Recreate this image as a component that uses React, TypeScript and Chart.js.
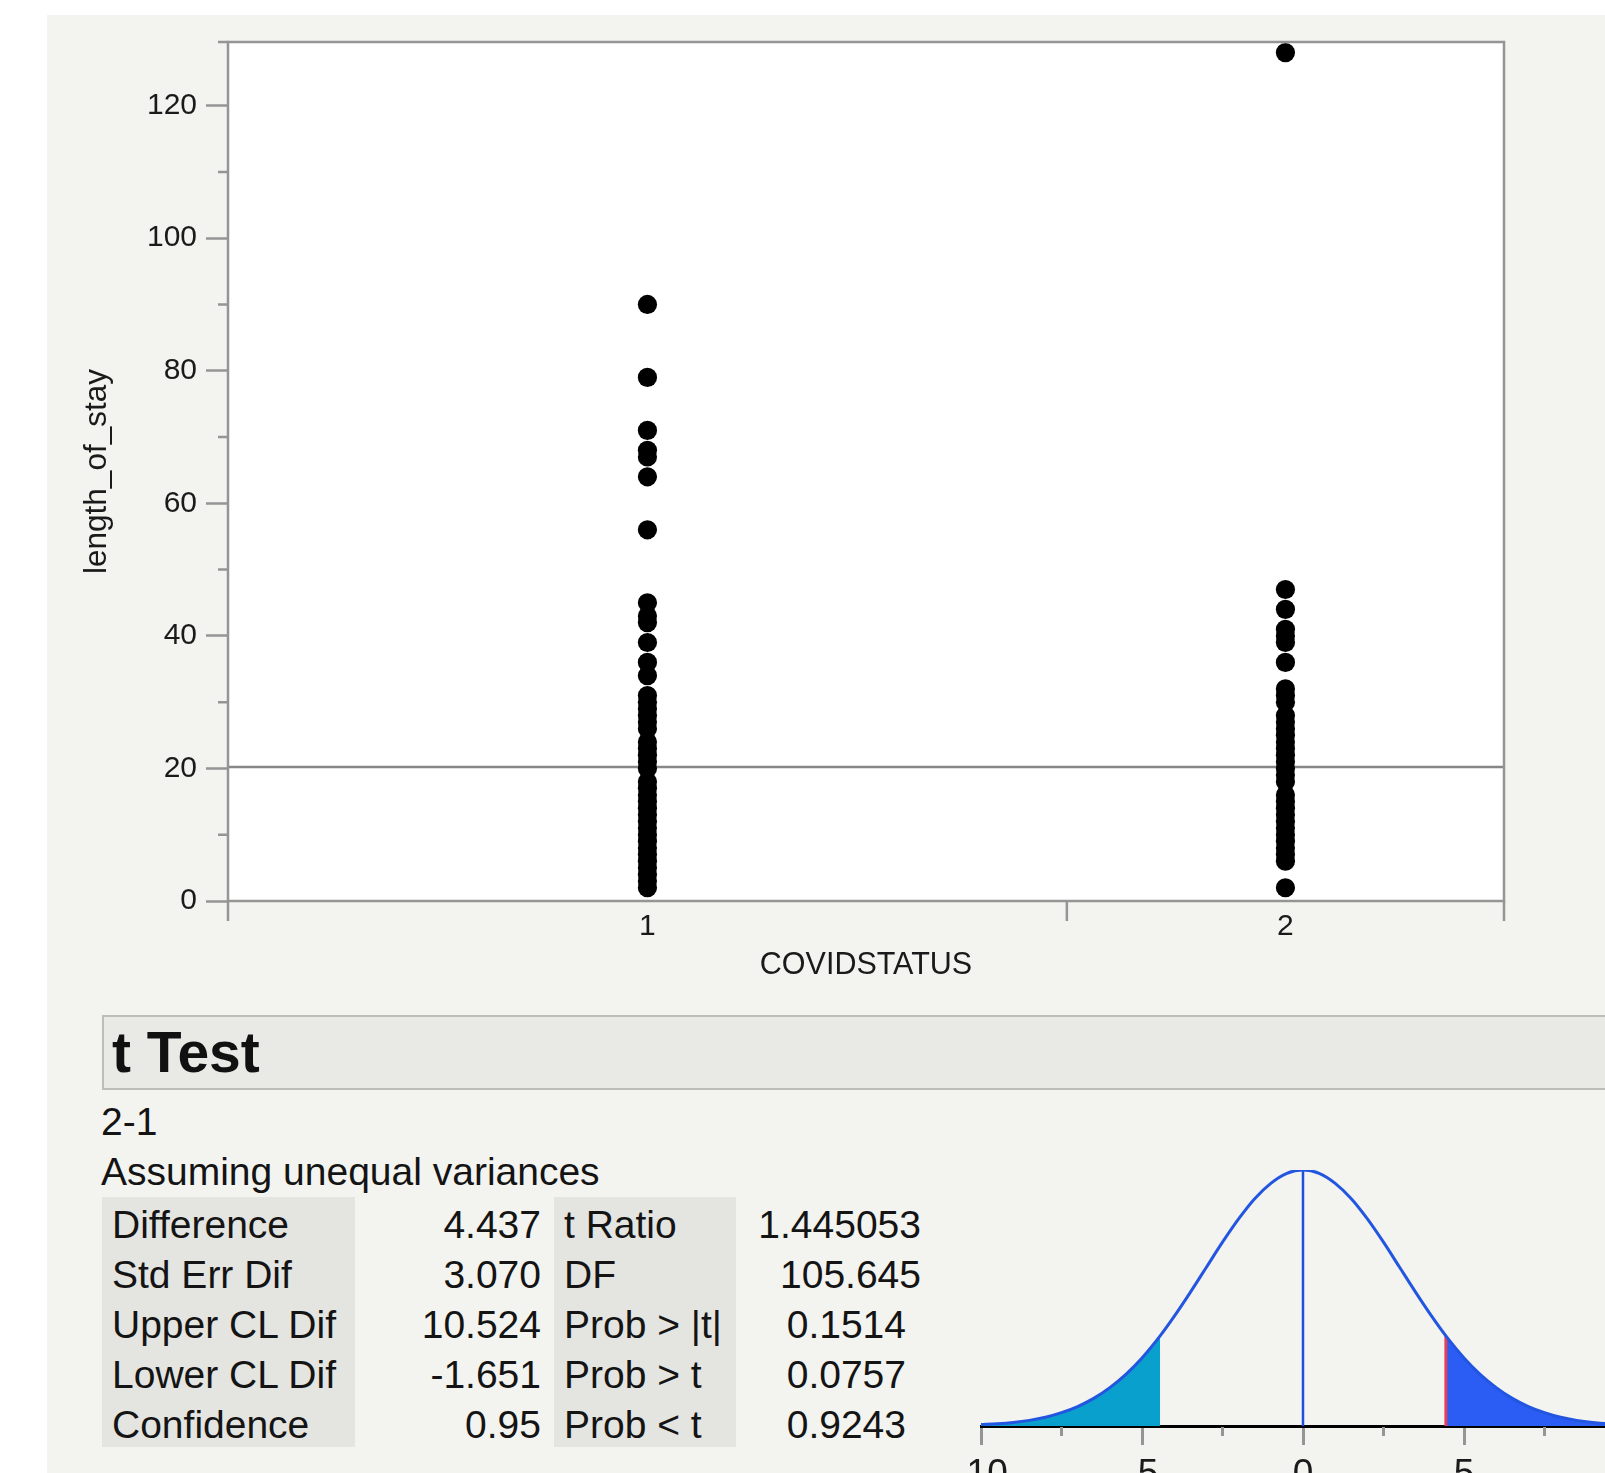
import React, { useEffect, useRef } from 'react';
import { Chart, registerables } from 'chart.js';

Chart.register(...registerables);

// ---------- data: one-way plot ----------
const categories = ['1', '2'];
const groupSizes = [71, 37];
const group1Values = [90, 79, 71, 68, 67, 64, 56, 45, 43, 42, 39, 36, 34, 31, 30, 29, 28, 27, 26, 24, 23, 22, 21, 20, 18, 17, 16, 15, 14, 13, 12, 11, 10, 9, 8, 7, 6, 5, 4, 3, 2];
const group2Values = [128, 47, 44, 41, 40, 39, 36, 32, 31, 30, 28, 27, 26, 25, 24, 23, 22, 21, 20, 19, 18, 16, 15, 14, 13, 12, 11, 10, 9, 8, 7, 6, 2];
const grandMean = 20.2;
const yTickValues = [0, 10, 20, 30, 40, 50, 60, 70, 80, 90, 100, 110, 120];
const yLabelStep = 20;
const yAxisMax = 129.6;
const xTitle = 'COVIDSTATUS';
const yTitle = 'length_of_stay';

// ---------- data: t test ----------
const testTitle = 't Test';
const contrastLabel = '2-1';
const varianceNote = 'Assuming unequal variances';
const statLabels = ['Difference', 'Std Err Dif', 'Upper CL Dif', 'Lower CL Dif', 'Confidence'];
const statValues = ['4.437', '3.070', '10.524', '-1.651', '0.95'];
const testLabels = ['t Ratio', 'DF', 'Prob > |t|', 'Prob > t', 'Prob < t'];
const testValues = ['1.445053', '105.645', '0.1514', '0.0757', '0.9243'];

// ---------- data: t distribution sketch ----------
const observedDiff = 4.437;
const densityX = [-10, -9.5, -9, -8.5, -8, -7.5, -7, -6.5, -6, -5.5, -5, -4.437, -4, -3.5, -3, -2.5, -2, -1.5, -1, -0.5, 0, 0.5, 1, 1.5, 2, 2.5, 3, 3.5, 4, 4.437, 5, 5.5, 6, 6.5, 7, 7.5, 8, 8.5, 9, 9.5, 10];
const densityY = [0.006, 0.009, 0.014, 0.022, 0.034, 0.052, 0.076, 0.108, 0.15, 0.202, 0.266, 0.352, 0.428, 0.522, 0.62, 0.718, 0.809, 0.888, 0.948, 0.987, 1.0, 0.987, 0.948, 0.888, 0.809, 0.718, 0.62, 0.522, 0.428, 0.352, 0.266, 0.202, 0.15, 0.108, 0.076, 0.052, 0.034, 0.022, 0.014, 0.009, 0.006];
const distTickValues = [-10, -7.5, -5, -2.5, 0, 2.5, 5, 7.5, 10];
const distLabelStep = 5;

const FONT = '"Liberation Sans", Arial, Helvetica, sans-serif';
const AXIS_GRAY = '#959595';

export default function App() {
  const mainRef = useRef<HTMLCanvasElement>(null);
  const distRef = useRef<HTMLCanvasElement>(null);

  useEffect(() => {
    if (!mainRef.current || !distRef.current) return;
    Chart.defaults.font.family = FONT;

    const total = groupSizes.reduce((a, b) => a + b, 0);
    const bounds: number[] = [0];
    groupSizes.forEach((n) => bounds.push(bounds[bounds.length - 1] + n));
    const centers = groupSizes.map((n, i) => bounds[i] + n / 2);

    const mainDecor = {
      id: 'mainDecor',
      beforeDraw(chart: any) {
        const { ctx, chartArea: a } = chart;
        ctx.save();
        ctx.fillStyle = '#ffffff';
        ctx.fillRect(a.left, a.top, a.right - a.left, a.bottom - a.top);
        ctx.restore();
      },
      afterDatasetsDraw(chart: any) {
        const { ctx, chartArea: a, scales } = chart;
        ctx.save();
        ctx.strokeStyle = AXIS_GRAY;
        ctx.lineWidth = 2.5;
        ctx.strokeRect(a.left, a.top, a.right - a.left, a.bottom - a.top);
        ctx.beginPath();
        ctx.moveTo(a.left - 10, a.top);
        ctx.lineTo(a.left, a.top);
        yTickValues
          .filter((v) => v % yLabelStep !== 0)
          .forEach((v) => {
            const py = scales.y.getPixelForValue(v);
            ctx.moveTo(a.left - 10, py);
            ctx.lineTo(a.left, py);
          });
        bounds.forEach((b) => {
          const px = scales.x.getPixelForValue(b);
          ctx.moveTo(px, a.bottom);
          ctx.lineTo(px, a.bottom + 20);
        });
        ctx.stroke();
        ctx.restore();
      },
    };

    const axisFont = { family: FONT, size: 30 };
    const main = new Chart(mainRef.current, {
      type: 'scatter',
      data: {
        datasets: [
          {
            data: [{ x: 0, y: grandMean }, { x: total, y: grandMean }],
            showLine: true,
            borderColor: '#878787',
            borderWidth: 2.5,
            pointRadius: 0,
            order: 2,
          },
          {
            data: group1Values.map((v) => ({ x: centers[0], y: v })),
            backgroundColor: '#000000',
            borderWidth: 0,
            pointRadius: 9.6,
            order: 0,
          },
          {
            data: group2Values.map((v) => ({ x: centers[1], y: v })),
            backgroundColor: '#000000',
            borderWidth: 0,
            pointRadius: 9.6,
            order: 0,
          },
        ],
      },
      options: {
        animation: false,
        responsive: false,
        devicePixelRatio: 1,
        events: [],
        layout: { padding: { top: 26, right: 101, left: 0, bottom: 0 } },
        plugins: { legend: { display: false }, tooltip: { enabled: false } },
        scales: {
          x: {
            type: 'linear',
            min: 0,
            max: total,
            afterBuildTicks: (s: any) => {
              s.ticks = centers.map((v) => ({ value: v }));
            },
            afterFit: (s: any) => {
              s.height = 99;
            },
            ticks: {
              callback: (_v: any, i: number) => categories[i],
              font: axisFont,
              color: '#1a1a1a',
              padding: 8,
              autoSkip: false,
              maxRotation: 0,
            },
            grid: { display: false, drawTicks: false },
            border: { display: false },
            title: { display: true, text: xTitle, font: { family: FONT, size: 30.5 }, color: '#1a1a1a', padding: { top: 0, bottom: 16 } },
          },
          y: {
            type: 'linear',
            min: 0,
            max: yAxisMax,
            afterBuildTicks: (s: any) => {
              s.ticks = yTickValues.map((v) => ({ value: v }));
            },
            afterFit: (s: any) => {
              s.width = 181;
            },
            ticks: {
              callback: (v: any) => (Number(v) % yLabelStep === 0 ? String(v) : ''),
              font: axisFont,
              color: '#1a1a1a',
              padding: 9,
              autoSkip: false,
            },
            grid: {
              drawOnChartArea: false,
              tickLength: 22,
              tickWidth: 2.5,
              tickColor: (c: any) => (c.tick && c.tick.value % yLabelStep === 0 ? AXIS_GRAY : 'rgba(0,0,0,0)'),
            },
            border: { display: false },
            title: { display: true, text: yTitle, font: { family: FONT, size: 31.5 }, color: '#1a1a1a', padding: { top: 31, bottom: 0 } },
          },
        },
      } as any,
      plugins: [mainDecor],
    });

    // ---- t distribution ----
    const pts = densityX.map((x, i) => ({ x, y: densityY[i] }));
    const leftTail = pts.filter((p) => p.x <= -observedDiff);
    const rightTail = pts.filter((p) => p.x >= observedDiff);
    const peak = densityY[densityX.indexOf(0)];
    const atObs = densityY[densityX.indexOf(observedDiff)];

    const distDecor = {
      id: 'distDecor',
      afterDraw(chart: any) {
        const { ctx, chartArea: a, scales } = chart;
        ctx.save();
        ctx.strokeStyle = AXIS_GRAY;
        ctx.lineWidth = 3;
        ctx.beginPath();
        distTickValues
          .filter((v) => v % distLabelStep !== 0)
          .forEach((v) => {
            const px = scales.x.getPixelForValue(v);
            ctx.moveTo(px, a.bottom + 1);
            ctx.lineTo(px, a.bottom + 10);
          });
        ctx.stroke();
        ctx.restore();
      },
    };

    const dist = new Chart(distRef.current, {
      type: 'line',
      data: {
        datasets: [
          {
            data: leftTail,
            fill: 'origin',
            backgroundColor: '#0aa0cd',
            borderWidth: 0,
            pointRadius: 0,
            cubicInterpolationMode: 'monotone',
            order: 5,
          },
          {
            data: rightTail,
            fill: 'origin',
            backgroundColor: '#2b5cf4',
            borderWidth: 0,
            pointRadius: 0,
            cubicInterpolationMode: 'monotone',
            order: 5,
          },
          {
            data: [{ x: 0, y: 0 }, { x: 0, y: peak }],
            borderColor: '#1f4fdc',
            borderWidth: 2.5,
            pointRadius: 0,
            fill: false,
            order: 3,
          },
          {
            data: [{ x: observedDiff, y: 0 }, { x: observedDiff, y: atObs }],
            borderColor: '#e4405a',
            borderWidth: 3,
            pointRadius: 0,
            fill: false,
            order: 2,
          },
          {
            data: pts,
            borderColor: '#2356e0',
            borderWidth: 3,
            pointRadius: 0,
            fill: false,
            cubicInterpolationMode: 'monotone',
            order: 1,
          },
        ],
      },
      options: {
        animation: false,
        responsive: false,
        devicePixelRatio: 1,
        events: [],
        layout: { padding: { top: 30, right: 35, left: 41, bottom: 0 } },
        plugins: { legend: { display: false }, tooltip: { enabled: false } },
        scales: {
          x: {
            type: 'linear',
            min: -10,
            max: 10,
            afterBuildTicks: (s: any) => {
              s.ticks = distTickValues.map((v) => ({ value: v }));
            },
            afterFit: (s: any) => {
              s.height = 47;
            },
            ticks: {
              callback: (v: any) => (Number(v) % distLabelStep === 0 ? String(v) : ''),
              font: { family: FONT, size: 37 },
              color: '#1a1a1a',
              padding: 8,
              autoSkip: false,
              maxRotation: 0,
            },
            grid: {
              drawOnChartArea: false,
              tickLength: 19,
              tickWidth: 3,
              tickColor: (c: any) => (c.tick && c.tick.value % distLabelStep === 0 ? AXIS_GRAY : 'rgba(0,0,0,0)'),
            },
            border: { display: true, color: '#000000', width: 3 },
          },
          y: { display: false, min: 0, max: 1 },
        },
      } as any,
      plugins: [distDecor],
    });

    return () => {
      main.destroy();
      dist.destroy();
    };
  }, []);

  const textStyle: React.CSSProperties = { position: 'absolute', fontSize: 39, color: '#141414', whiteSpace: 'nowrap' };
  const rowTop = 1197;
  const rowH = 50;

  return (
    <div
      style={{
        position: 'absolute',
        left: 0,
        top: 0,
        width: 1605,
        height: 1473,
        overflow: 'hidden',
        background: '#ffffff',
        fontFamily: FONT,
      }}
    >
      <div style={{ position: 'absolute', left: 47, top: 15, right: 0, bottom: 0, background: '#f3f3f0' }} />
      <canvas ref={mainRef} width={1558} height={985} style={{ position: 'absolute', left: 47, top: 15, width: 1558, height: 985 }} />

      <div
        style={{
          position: 'absolute',
          left: 102,
          top: 1015,
          width: 1560,
          height: 75,
          boxSizing: 'border-box',
          border: '2px solid #bdbdb9',
          background: '#e9e9e5',
          fontWeight: 'bold',
          fontSize: 57,
          lineHeight: '71px',
          paddingLeft: 8,
          color: '#111',
        }}
      >
        {testTitle}
      </div>

      <div style={{ ...textStyle, left: 101, top: 1097, lineHeight: '50px' }}>{contrastLabel}</div>
      <div style={{ ...textStyle, left: 101, top: 1147, lineHeight: '50px' }}>{varianceNote}</div>

      {statLabels.map((lab, i) => (
        <React.Fragment key={lab}>
          <div style={{ ...textStyle, left: 102, top: rowTop + i * rowH, width: 253, height: rowH, background: '#e4e4e1', lineHeight: '56px', paddingLeft: 10, boxSizing: 'border-box' }}>{lab}</div>
          <div style={{ ...textStyle, left: 355, top: rowTop + i * rowH, width: 186, height: rowH, lineHeight: '56px', textAlign: 'right' }}>{statValues[i]}</div>
          <div style={{ ...textStyle, left: 554, top: rowTop + i * rowH, width: 182, height: rowH, background: '#e4e4e1', lineHeight: '56px', paddingLeft: 10, boxSizing: 'border-box' }}>{testLabels[i]}</div>
          <div style={{ ...textStyle, left: 736, top: rowTop + i * rowH, width: 185, height: rowH, lineHeight: '56px', textAlign: 'right', paddingRight: testLabels[i].startsWith('Prob') ? 15 : 0, boxSizing: 'border-box' }}>{testValues[i]}</div>
        </React.Fragment>
      ))}

      <canvas ref={distRef} width={720} height={333} style={{ position: 'absolute', left: 940, top: 1140, width: 720, height: 333 }} />
    </div>
  );
}
